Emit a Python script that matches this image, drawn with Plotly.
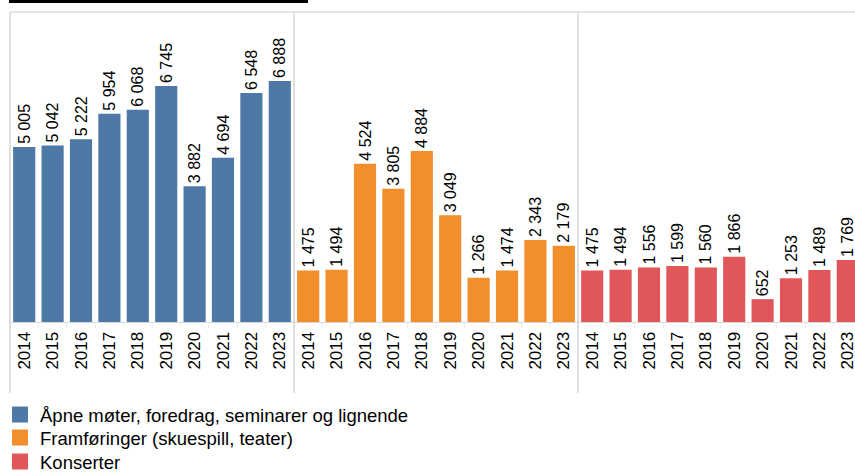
import plotly.graph_objects as go
from plotly.subplots import make_subplots

years = ["2014", "2015", "2016", "2017", "2018", "2019", "2020", "2021", "2022", "2023"]

series_names = [
    "Åpne møter, foredrag, seminarer og lignende",
    "Framføringer (skuespill, teater)",
    "Konserter",
]
apne_moter = [5005, 5042, 5222, 5954, 6068, 6745, 3882, 4694, 6548, 6888]
framforinger = [1475, 1494, 4524, 3805, 4884, 3049, 1266, 1474, 2343, 2179]
konserter = [1475, 1494, 1556, 1599, 1560, 1866, 652, 1253, 1489, 1769]
colors = ["#4e79a7", "#f28e2b", "#e15759"]

W, H = 855, 473
left, top, bottom_px = 10, 12, 322
panel_w = 284  # pixel width of each panel
plot_w = W - left
plot_h = bottom_px - top

FONT = "Liberation Sans, Arial, sans-serif"


def fmt(v):
    return f"{v:,}".replace(",", " ")


fig = make_subplots(rows=1, cols=3, shared_yaxes=True, horizontal_spacing=0)

for i, (name, vals, col) in enumerate(zip(series_names, [apne_moter, framforinger, konserter], colors)):
    fig.add_trace(
        go.Bar(
            x=years,
            y=vals,
            name=name,
            showlegend=False,
            marker=dict(color=col, line=dict(width=0)),
            text=[fmt(v) for v in vals],
            textposition="outside",
            textangle=-90,
            constraintext="none",
            textfont=dict(family=FONT, size=16, color="#000000"),
            cliponaxis=False,
            hoverinfo="x+y",
        ),
        row=1,
        col=i + 1,
    )

# legend entries with larger square swatches, one legend box per row
legend_ids = ["legend", "legend2", "legend3"]
for name, col, lg in zip(series_names, colors, legend_ids):
    fig.add_trace(
        go.Scatter(
            x=[None],
            y=[None],
            mode="markers",
            name=name,
            legend=lg,
            marker=dict(symbol="square", size=16, color=col),
            showlegend=True,
            hoverinfo="skip",
        ),
        row=1,
        col=1,
    )

# panel domains in paper fraction
d1 = (0, panel_w / plot_w)
d2 = (panel_w / plot_w, 2 * panel_w / plot_w)
d3 = (2 * panel_w / plot_w, 1)
p3_px = plot_w - 2 * panel_w
for k, dom in enumerate([d1, d2, d3]):
    ax = "xaxis" if k == 0 else f"xaxis{k + 1}"
    rng = [-0.5, 9.5] if k < 2 else [-0.5, -0.5 + p3_px / (panel_w / 10)]
    fig.layout[ax].update(
        domain=list(dom),
        range=rng,
        type="category",
        tickmode="array",
        tickvals=years,
        ticktext=years,
        tickangle=-90,
        tickfont=dict(family=FONT, size=17, color="#000000"),
        showline=True,
        linecolor="#d9d9d9",
        linewidth=1,
        ticks="outside",
        tickson="boundaries",
        ticklen=5,
        tickcolor="#eeeeee",
        ticklabelstandoff=2,
        showgrid=False,
        zeroline=False,
        fixedrange=True,
        automargin=False,
    )

fig.update_yaxes(
    range=[0, 8860],
    showticklabels=False,
    showgrid=False,
    zeroline=False,
    showline=False,
    ticks="",
)

sep_color = "#d4d4d4"
shapes = []
# top border of the chart box
shapes.append(dict(type="line", xref="paper", yref="paper", x0=0, x1=1, y0=1, y1=1,
                   line=dict(color="#dcdcdc", width=1.5)))
# left border and panel separators, extending below the axis labels
y_low = -(393 - bottom_px) / plot_h
for xp in [0, d1[1], d2[1]]:
    shapes.append(dict(type="line", xref="paper", yref="paper", x0=xp, x1=xp, y0=y_low, y1=1,
                       line=dict(color=sep_color, width=1.5)))
# heading underline along the top edge
y_ul = 1 + (top - 1.5) / plot_h
shapes.append(dict(type="line", xref="paper", yref="paper",
                   x0=-1 / plot_w, x1=(308 - left) / plot_w,
                   y0=y_ul, y1=y_ul,
                   line=dict(color="#000000", width=3)))

legend_style = dict(
    x=-10 / plot_w,
    xanchor="left",
    yanchor="middle",
    orientation="v",
    font=dict(family=FONT, size=18.5, color="#000000"),
    bgcolor="rgba(0,0,0,0)",
    itemwidth=30,
)
row_centers = [415, 438, 462]

fig.update_layout(
    width=W,
    height=H,
    margin=dict(l=left, r=0, t=top, b=H - bottom_px, pad=0, autoexpand=False),
    paper_bgcolor="#ffffff",
    plot_bgcolor="#ffffff",
    bargap=0.22,
    uniformtext=dict(minsize=16, mode="show"),
    showlegend=True,
    shapes=shapes,
    font=dict(family=FONT),
)
for lg, yc in zip(legend_ids, row_centers):
    fig.layout[lg] = dict(legend_style, y=-(yc - bottom_px) / plot_h)

fig.write_html("out.html")
